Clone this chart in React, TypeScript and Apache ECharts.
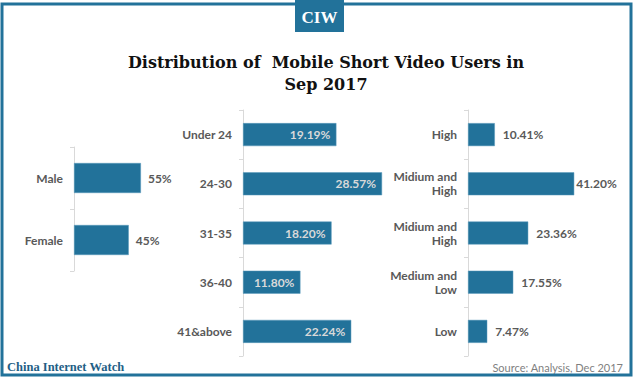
import React, { useEffect, useRef } from "react";
import * as echarts from "echarts";

const genderCats = ["Male", "Female"];
const genderVals = [55, 45];
const ageCats = ["Under 24", "24-30", "31-35", "36-40", "41&above"];
const ageVals = [19.19, 28.57, 18.2, 11.8, 22.24];
const incomeCats = ["High", "Midium and\nHigh", "Midium and\nHigh", "Medium and\nLow", "Low"];
const incomeVals = [10.41, 41.2, 23.36, 17.55, 7.47];

const BLUE = "#22729a";
const GRAY = "#595959";
const FONT = "Lato";

const fmt = (v: number, dec: number) => v.toFixed(dec) + "%";

export default function App() {
  const ref = useRef<HTMLDivElement>(null);
  useEffect(() => {
    if (!ref.current) return;
    const chart = echarts.init(ref.current, undefined, { renderer: "svg" });
    const catAxis = (gi: number, data: string[]) => ({
      type: "category",
      gridIndex: gi,
      data,
      inverse: true,
      axisLine: { show: true, lineStyle: { color: "#d9d9d9", width: 1 } },
      axisTick: { show: true, length: 4, lineStyle: { color: "#d9d9d9" } },
      axisLabel: {
        color: GRAY,
        fontFamily: FONT,
        fontSize: 12,
        fontWeight: "bold",
        margin: 11,
        lineHeight: 14,
        align: "right",
      },
    });
    const valAxis = (gi: number, max: number) => ({
      type: "value",
      gridIndex: gi,
      min: 0,
      max,
      show: false,
    });
    const lbl = {
      show: true,
      color: GRAY,
      fontFamily: FONT,
      fontSize: 12,
      fontWeight: "bold",
    };
    const option: any = {
      animation: false,
      backgroundColor: "#ffffff",
      grid: [
        { left: 74, top: 147, width: 73, height: 124 },
        { left: 243, top: 110, width: 146, height: 246 },
        { left: 468, top: 110, width: 116, height: 246 },
      ],
      xAxis: [valAxis(0, 60), valAxis(1, 30), valAxis(2, 45)],
      yAxis: [catAxis(0, genderCats), catAxis(1, ageCats), catAxis(2, incomeCats)],
      series: [
        {
          type: "bar",
          xAxisIndex: 0,
          yAxisIndex: 0,
          barWidth: 30,
          data: genderVals,
          itemStyle: { color: BLUE, borderColor: "#5b9bbd", borderWidth: 0.5 },
          label: { ...lbl, position: "right", distance: 7, formatter: (p: any) => fmt(p.value, 0) },
        },
        {
          type: "bar",
          xAxisIndex: 1,
          yAxisIndex: 1,
          barWidth: 23,
          data: ageVals,
          itemStyle: { color: BLUE, borderColor: "#5b9bbd", borderWidth: 0.5 },
          label: { ...lbl, color: "#d9d9d9", position: "insideRight", distance: 6, formatter: (p: any) => fmt(p.value, 2) },
        },
        {
          type: "bar",
          xAxisIndex: 2,
          yAxisIndex: 2,
          barWidth: 23,
          data: incomeVals.map((v) => (v > 40 ? { value: v, label: { distance: 2 } } : v)),
          itemStyle: { color: BLUE, borderColor: "#5b9bbd", borderWidth: 0.5 },
          label: { ...lbl, position: "right", distance: 8, formatter: (p: any) => fmt(p.value, 2) },
        },
      ],
      graphic: [
        {
          type: "rect",
          shape: { x: 2, y: 4, width: 629, height: 371 },
          style: { fill: "none", stroke: BLUE, lineWidth: 3 },
          z: 10,
        },
        {
          type: "rect",
          shape: { x: 295, y: 0, width: 49, height: 32 },
          style: { fill: BLUE },
          z: 11,
        },
        {
          type: "text",
          x: 319.5,
          y: 17,
          style: {
            text: "CIW",
            fill: "#ffffff",
            font: "bold 17px 'Liberation Serif'",
            align: "center",
            verticalAlign: "middle",
          },
          z: 12,
        },
        {
          type: "text",
          x: 326,
          y: 62,
          style: {
            text: "Distribution of  Mobile Short Video Users in",
            fill: "#111111",
            font: "bold 16px 'DejaVu Serif'",
            align: "center",
            verticalAlign: "middle",
          },
        },
        {
          type: "text",
          x: 326,
          y: 84,
          style: {
            text: "Sep 2017",
            fill: "#111111",
            font: "bold 16px 'DejaVu Serif'",
            align: "center",
            verticalAlign: "middle",
          },
        },
        {
          type: "text",
          x: 7,
          y: 367,
          style: {
            text: "China Internet Watch",
            fill: "#1f5f86",
            font: "bold 12.5px 'Liberation Serif'",
            align: "left",
            verticalAlign: "middle",
          },
        },
        {
          type: "text",
          x: 623,
          y: 367,
          style: {
            text: "Source: Analysis, Dec 2017",
            fill: "#7f7f7f",
            font: "11px Lato",
            align: "right",
            verticalAlign: "middle",
          },
        },
      ],
    };
    chart.setOption(option);
    return () => chart.dispose();
  }, []);
  return (
    <div
      ref={ref}
      style={{ position: "fixed", left: 0, top: 0, width: 634, height: 382 }}
    />
  );
}
